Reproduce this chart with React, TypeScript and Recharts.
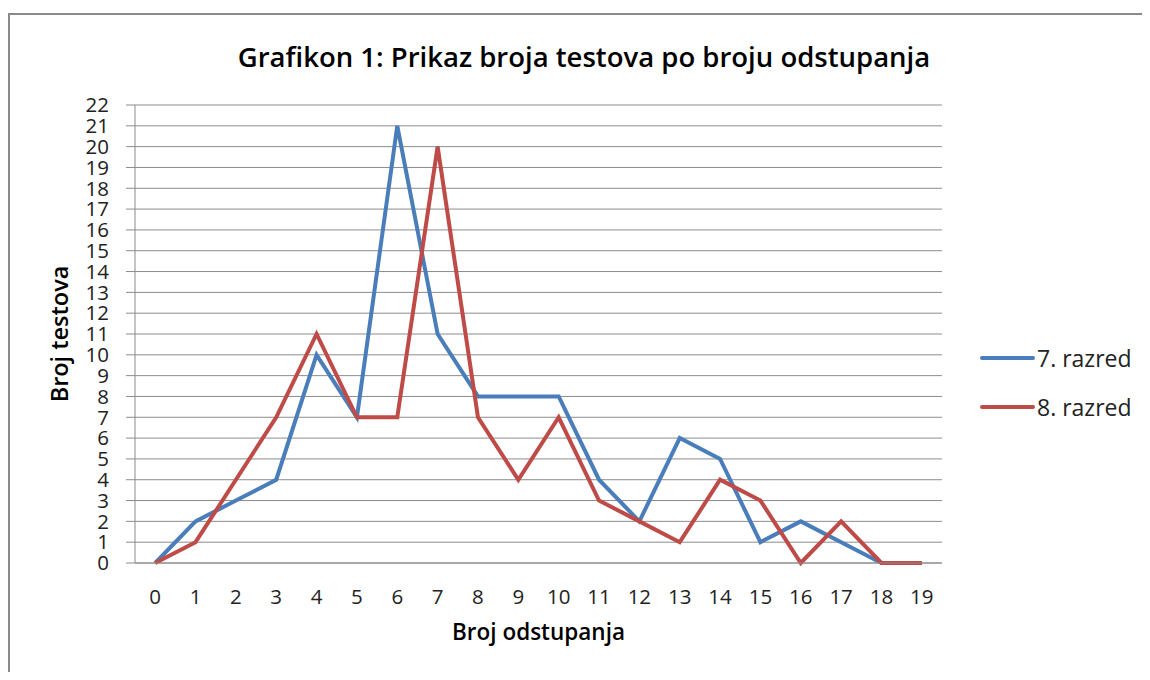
import React from 'react';
import { LineChart, Line, XAxis, YAxis, CartesianGrid } from 'recharts';

const categories = ['0','1','2','3','4','5','6','7','8','9','10','11','12','13','14','15','16','17','18','19'];
const razred7 = [0, 2, 3, 4, 10, 7, 21, 11, 8, 8, 8, 4, 2, 6, 5, 1, 2, 1, 0, 0];
const razred8 = [0, 1, 4, 7, 11, 7, 7, 20, 7, 4, 7, 3, 2, 1, 4, 3, 0, 2, 0, 0];
const yTicks = [0,1,2,3,4,5,6,7,8,9,10,11,12,13,14,15,16,17,18,19,20,21,22];
const seriesNames = ['7. razred', '8. razred'];
const colors = ['#4A7EBB', '#BE4B48'];

const data = categories.map((c, i) => ({ cat: c, a: razred7[i], b: razred8[i] }));

const FONT = '"Open Sans", sans-serif';

export default function App() {
  return (
    <div style={{ position: 'relative', width: 1134, height: 664, overflow: 'hidden', background: '#fff' }}>
      <div style={{ position: 'absolute', left: 0, top: 5, right: 0, bottom: 0, borderLeft: '2px solid #8a8a8a', borderTop: '2px solid #8a8a8a' }} />
      <div style={{ position: 'absolute', left: 126, width: 900, top: 30, textAlign: 'center', fontFamily: FONT, fontWeight: 600, fontSize: 27.5, color: '#000', lineHeight: '38px' }}>
        Grafikon 1: Prikaz broja testova po broju odstupanja
      </div>
      <div style={{ position: 'absolute', left: 0, top: 0 }}>
        <LineChart width={1134} height={664} data={data} margin={{ top: 97, right: 200, bottom: 69, left: 0 }}>
          <CartesianGrid vertical={false} stroke="#8c8c8c" strokeWidth={1} />
          <XAxis
            dataKey="cat"
            scale="band"
            height={40}
            tickLine={false}
            tickSize={0}
            tickMargin={26}
            stroke="#8c8c8c"
            interval={0}
            tick={{ fill: '#222', fontSize: 20.5, fontFamily: FONT }}
            label={{ value: 'Broj odstupanja', position: 'bottom', offset: 21, style: { fontFamily: FONT, fontWeight: 600, fontSize: 22.5, fill: '#000' } }}
          />
          <YAxis
            width={127}
            domain={[0, 22]}
            ticks={yTicks}
            interval={0}
            tickSize={9}
            tickMargin={17}
            stroke="#8c8c8c"
            tick={{ fill: '#222', fontSize: 20.5, fontFamily: FONT }}
            label={{ value: 'Broj testova', angle: -90, position: 'center', dx: -12, dy: 0, style: { fontFamily: FONT, fontWeight: 600, fontSize: 23.5, fill: '#000', textAnchor: 'middle' } }}
          />
          <Line type="linear" dataKey="a" name={seriesNames[0]} stroke={colors[0]} strokeWidth={4} dot={false} isAnimationActive={false} />
          <Line type="linear" dataKey="b" name={seriesNames[1]} stroke={colors[1]} strokeWidth={4} dot={false} isAnimationActive={false} />
        </LineChart>
      </div>
      <div style={{ position: 'absolute', left: 972, top: 325, fontFamily: FONT, fontSize: 23, color: '#222' }}>
        {seriesNames.map((n, i) => (
          <div key={n} style={{ display: 'flex', alignItems: 'center', height: 49 }}>
            <div style={{ width: 55, height: 4, borderRadius: 2, background: colors[i], marginRight: 2 }} />
            <span>{n}</span>
          </div>
        ))}
      </div>
    </div>
  );
}
